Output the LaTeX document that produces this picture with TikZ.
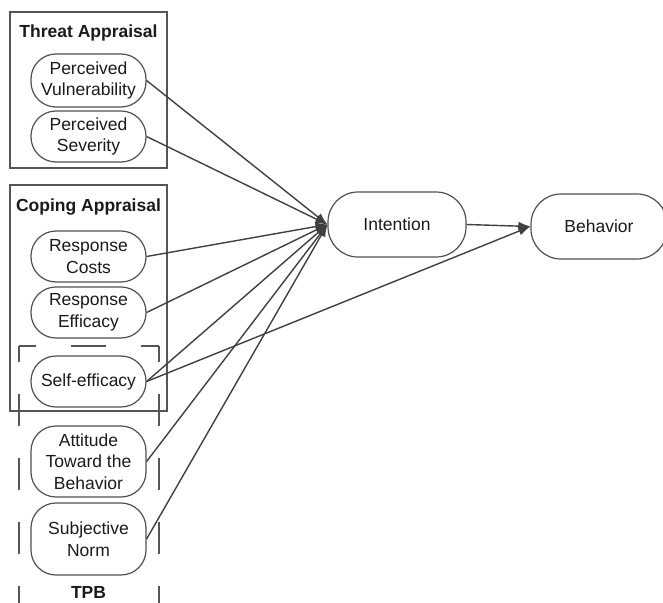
\documentclass[tikz,border=0pt]{standalone}
\usepackage{fontspec}
\setmainfont{Liberation Sans}
\usetikzlibrary{arrows.meta}
\definecolor{linec}{HTML}{404040}
\definecolor{boxc}{HTML}{555555}
\definecolor{nodec}{HTML}{505050}
\definecolor{textc}{HTML}{1A1A1A}
\begin{document}
\begin{tikzpicture}[x=1pt,y=-1pt,
  groupbox/.style={draw=boxc,line width=1.4pt},
  tpbdash/.style={draw=boxc,line width=1.4pt},
  construct/.style={draw=nodec,line width=1.2pt,rounded corners=25pt,
    minimum width=115pt,align=center,inner sep=0pt,text=textc,
    font=\fontsize{17.5}{21.5}\selectfont},
  bignode/.style={construct,rounded corners=30pt,minimum height=65pt},
  title/.style={font=\bfseries\fontsize{17.5}{21}\selectfont,text=textc,inner sep=0pt},
  arr/.style={draw=linec,line width=1.4pt,-{Latex[length=12pt,width=9pt]}}]
\useasboundingbox (0,0) rectangle (663,602);
\begin{scope}
\clip (0,0) rectangle (663,602);
% group boxes
\draw[groupbox] (10,12) rectangle (167,168);
\draw[groupbox] (10,185) rectangle (167,411);
\node[title] (tt) at (88.5,33) {Threat Appraisal};
\node[title] (ct) at (88.5,207) {Coping Appraisal};
% TPB dashed box (open at bottom)
\draw[tpbdash,dash pattern=on 35pt off 35pt,dash phase=18pt] (19,346) -- (159,346);
\draw[tpbdash,dash pattern=on 32pt off 32pt,dash phase=16pt] (19,346) -- (19,640);
\draw[tpbdash,dash pattern=on 32pt off 32pt,dash phase=16pt] (159,346) -- (159,640);
\node[title] (tpb) at (88.5,592) {TPB};
% constructs
\node[construct,minimum height=53pt] (pv) at (88.5,80.5) {Perceived\\Vulnerability};
\node[construct,minimum height=51pt] (ps) at (88.5,136.5) {Perceived\\Severity};
\node[construct,minimum height=51pt] (rc) at (88.5,256.5) {Response\\Costs};
\node[construct,minimum height=51pt] (re) at (88.5,312.5) {Response\\Efficacy};
\node[construct,minimum height=51pt] (se) at (88.5,381.5) {Self-efficacy};
\node[construct,minimum height=71pt] (at) at (88.5,461.5) {Attitude\\Toward the\\Behavior};
\node[construct,minimum height=72pt] (sn) at (88.5,539) {Subjective\\Norm};
\node[bignode,minimum width=138pt] (int) at (397,224.5) {Intention};
\node[bignode,minimum width=136pt] (beh) at (599,226.5) {Behavior};
% connectors
\foreach \s in {pv,ps,rc,re,se,at,sn}{
  \draw[arr] (\s.east) -- (int.west);
}
\draw[arr] (int.east) -- (beh.west);
\draw[arr] (se.east) -- (beh.west);
\end{scope}
\end{tikzpicture}
\end{document}
